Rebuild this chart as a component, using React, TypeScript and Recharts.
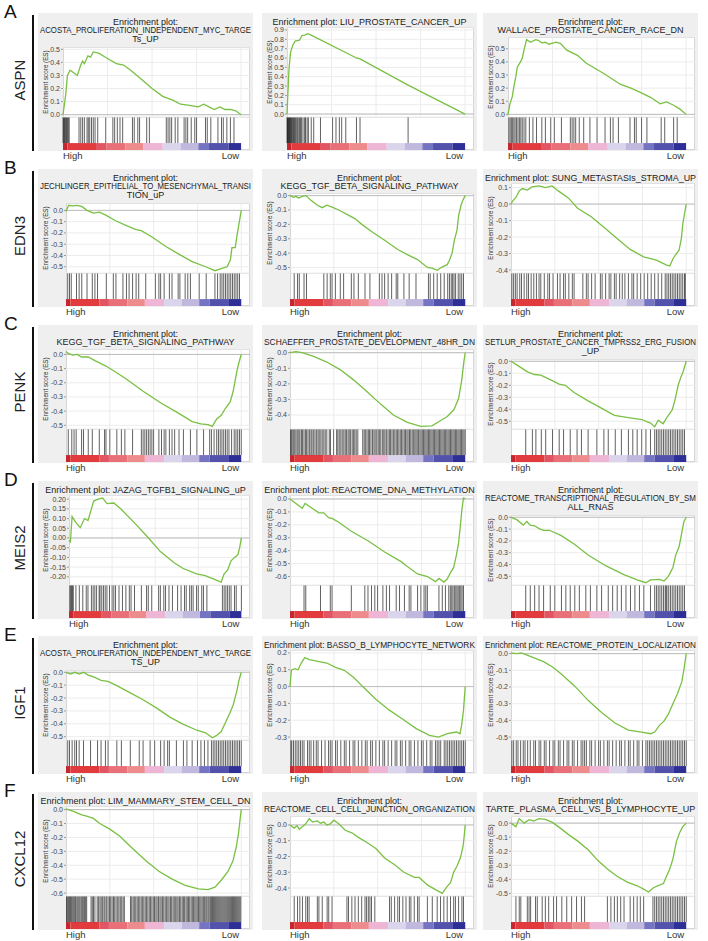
import React from "react"
import { LineChart, Line, XAxis, YAxis, CartesianGrid, ReferenceLine, ReferenceArea } from "recharts"

const FONT = '"Liberation Sans", Arial, Helvetica, sans-serif'

const ROW_LETTERS = ["A", "B", "C", "D", "E", "F"]
const ROW_GENES = ["ASPN", "EDN3", "PENK", "MEIS2", "IGF1", "CXCL12"]

// ranked-list colour bar (rank position in %, and colour of each block)
const RAMP_STOPS = [0, 2.5, 19, 24.5, 35, 45, 56, 66, 76, 82, 93, 100]
const RAMP_COLORS = ["#c4282e", "#e13b3e", "#e25664", "#e96f79", "#ee8b8d", "#efb5d4", "#dad5ec", "#c1b8de", "#7574c3", "#5251ac", "#2d2e96"]
const GRID_X = [25, 50, 75, 100]

// ---------- row A : ASPN ----------
const a1Title = ["Enrichment plot:", "ACOSTA_PROLIFERATION_INDEPENDENT_MYC_TARGE", "Ts_UP"]
const a1Ticks = ["0.5", "0.4", "0.3", "0.2", "0.1", "0.0"]
const a1Es = [[0, 0], [1.5, 0.15], [2.5, 0.3], [4, 0.34], [6, 0.32], [8, 0.3], [10, 0.38], [11, 0.41], [12, 0.39], [14, 0.45], [15.5, 0.44], [17, 0.48], [20, 0.47], [25, 0.43], [30, 0.39], [34, 0.38], [38, 0.34], [45, 0.26], [50, 0.2], [56, 0.14], [62, 0.11], [66, 0.08], [72, 0.07], [76, 0.06], [79, 0.08], [82, 0.06], [85, 0.04], [88, 0.06], [91, 0.04], [94, 0.04], [97, 0.03], [100, 0]]
const a1Hits = [0, 0.4, 0.8, 1.2, 1.6, 2, 2.5, 3, 3.5, 9, 10, 11, 12, 13.5, 14.2, 15, 16, 17, 18, 19.5, 24, 28, 29, 30.5, 32, 33.5, 39, 40, 42, 43, 47, 48.5, 58, 59, 60, 61, 63, 64.5, 68, 69, 70, 72, 74, 75, 80, 81, 83, 87, 89, 90, 92, 94, 96]

const a2Title = ["Enrichment plot: LIU_PROSTATE_CANCER_UP"]
const a2Ticks = ["0.9", "0.8", "0.7", "0.6", "0.5", "0.4", "0.3", "0.2", "0.1", "0.0"]
const a2Es = [[0, 0], [0.6, 0.26], [1.1, 0.48], [2, 0.66], [3.3, 0.74], [4.6, 0.78], [7, 0.79], [8.4, 0.84], [10, 0.845], [11.5, 0.86], [13, 0.85], [39, 0.6], [41, 0.59], [68, 0.31], [100, 0]]
const a2Hits = [0, 0.3, 0.6, 0.9, 1.2, 1.5, 1.8, 2.1, 2.5, 2.9, 3.3, 3.7, 4.2, 4.7, 5.2, 5.8, 6.3, 7, 7.6, 8.2, 9, 9.9, 10.4, 11.3, 12, 13.6, 15, 18.8, 25.6, 27.5, 29.4, 30.7, 33, 39, 41, 68]

const a3Title = ["Enrichment plot:", "WALLACE_PROSTATE_CANCER_RACE_DN"]
const a3Ticks = ["0.5", "0.4", "0.3", "0.2", "0.1", "0.0"]
const a3Es = [[0, 0], [1.1, 0.08], [2.4, 0.135], [3.4, 0.22], [4.3, 0.28], [5.2, 0.36], [7, 0.4], [8, 0.43], [9, 0.49], [10.4, 0.57], [12.7, 0.55], [15.5, 0.57], [17, 0.565], [19, 0.545], [21, 0.55], [23, 0.535], [27, 0.55], [29.5, 0.54], [33, 0.49], [39, 0.45], [44, 0.39], [54, 0.31], [63, 0.23], [69, 0.2], [74, 0.17], [80, 0.13], [85.5, 0.08], [89, 0.095], [93, 0.07], [96.6, 0.04], [100, 0]]
const a3Hits = [0.5, 1.2, 1.9, 2.6, 3.3, 4, 4.8, 5.6, 6.4, 7.2, 8, 9, 10, 12, 14, 16, 19, 21, 24, 26, 30, 35, 36, 37, 38, 40, 42.5, 46, 50, 54.5, 57.5, 59, 62, 68.5, 71, 72, 75, 78, 86, 88, 93, 95]

// ---------- row B : EDN3 ----------
const b1Title = ["Enrichment plot:", "JECHLINGER_EPITHELIAL_TO_MESENCHYMAL_TRANSI", "TION_uP"]
const b1Ticks = ["0.0", "-0.1", "-0.2", "-0.3", "-0.4", "-0.5"]
const b1Es = [[0, -0.01], [1.5, 0.045], [4, 0.04], [6, 0.045], [9, 0.035], [12, 0], [15.6, -0.025], [19, -0.015], [23, -0.045], [28, -0.09], [34.5, -0.135], [40, -0.17], [43, -0.18], [49.5, -0.24], [57, -0.32], [64.6, -0.39], [72, -0.455], [79.7, -0.5], [85, -0.535], [89, -0.515], [91.9, -0.5], [93.8, -0.44], [94.7, -0.33], [96.6, -0.33], [97.5, -0.23], [98.5, -0.14], [100, 0]]
const b1Hits = [1, 2, 3, 6, 7.5, 9, 12, 15, 16.5, 18, 23, 27, 28.5, 32.5, 34.5, 36, 38, 40, 41.5, 45.5, 51, 53, 54, 56, 59, 60.5, 64, 65, 68, 69.5, 71, 76, 80, 85, 86.5, 88, 89, 90, 91, 92, 93, 94, 95, 96, 97, 98, 99]

const b2Title = ["Enrichment plot:", "KEGG_TGF_BETA_SIGNALING_PATHWAY"]
const b2Ticks = ["0.0", "-0.1", "-0.2", "-0.3", "-0.4", "-0.5"]
const b2Es = [[0, 0], [2, -0.012], [3.4, -0.005], [5, -0.017], [7, -0.005], [9, 0], [11.8, -0.03], [15.6, -0.067], [18.4, -0.084], [21, -0.067], [24, -0.08], [27.8, -0.1], [32.5, -0.13], [37, -0.16], [41, -0.2], [46.5, -0.25], [54, -0.31], [61.5, -0.375], [67, -0.41], [72.8, -0.445], [78.4, -0.5], [81, -0.505], [84, -0.52], [86.9, -0.495], [89.7, -0.48], [91, -0.45], [92.5, -0.4], [93.8, -0.31], [95.3, -0.24], [96.2, -0.14], [97.6, -0.067], [98.7, -0.03], [100, 0]]
const b2Hits = [2.4, 4.3, 5.3, 8, 9.4, 19.3, 21.2, 23, 24, 25.9, 28.7, 30.6, 35, 36.5, 39, 42.8, 45.6, 51, 52.5, 54, 56, 58, 60.6, 61.5, 65, 68, 71.9, 79, 80, 82, 84, 86, 88, 90, 91, 92, 92.8, 93.6, 94.5, 96, 97, 98, 99]

const b3Title = ["Enrichment plot: SUNG_METASTASIs_STROMA_UP"]
const b3Ticks = ["0.1", "0.0", "-0.1", "-0.2", "-0.3", "-0.4"]
const b3Es = [[0, 0], [1, 0.02], [2.8, 0.04], [4.7, 0.08], [6.5, 0.094], [9.3, 0.085], [12, 0.104], [16, 0.11], [19.6, 0.1], [23.4, 0.11], [27, 0.08], [32.7, 0.0375], [38, -0.025], [45.8, -0.077], [53, -0.14], [60.7, -0.21], [68, -0.275], [75.7, -0.32], [83, -0.34], [88.8, -0.37], [90.6, -0.375], [92.5, -0.33], [94.4, -0.3], [95.9, -0.28], [97.2, -0.21], [98, -0.125], [99, -0.06], [100, 0]]
const b3Hits = [0.5, 1.5, 2.5, 3.5, 5, 6, 7.5, 9, 10, 11.5, 13, 14.5, 16, 17, 19, 21, 22, 24, 26.5, 28, 30, 31, 33, 35, 36, 41, 43, 44, 46, 48, 51, 52, 54, 56, 57, 59, 60, 62, 63.5, 65, 67, 69, 70, 72, 74, 76, 78, 80, 82, 84, 86, 88, 89, 90, 91, 92, 93, 94, 95, 96, 97, 98, 99, 99.5]

// ---------- row C : PENK ----------
const c1Title = ["Enrichment plot:", "KEGG_TGF_BETA_SIGNALING_PATHWAY"]
const c1Ticks = ["0.0", "-0.1", "-0.2", "-0.3", "-0.4", "-0.5"]
const c1Es = [[0, 0.02], [1.3, 0.008], [3.8, -0.005], [6.3, 0], [8.9, -0.018], [12.7, -0.018], [16.5, -0.044], [22.8, -0.082], [27.8, -0.12], [34, -0.17], [44, -0.26], [54.4, -0.345], [64.6, -0.418], [72, -0.474], [77, -0.49], [81, -0.495], [83.5, -0.508], [86, -0.456], [88.6, -0.43], [91, -0.38], [93.7, -0.335], [95.4, -0.26], [97.5, -0.12], [98.7, -0.057], [100, 0]]
const c1Hits = [1.3, 3.3, 4.6, 5.8, 8.9, 10, 12.7, 15, 19, 22, 22.8, 25, 29, 31.6, 33.6, 38, 43, 44, 45, 46, 47, 48, 49, 50, 53, 54.5, 56, 57, 59, 60.5, 62, 64.5, 67, 71, 74.7, 78.5, 82, 83, 84.5, 86, 87, 88, 89, 90, 91, 92, 93, 94.5, 96, 97, 98, 99, 100]

const c2Title = ["Enrichment plot:", "SCHAEFFER_PROSTATE_DEVELOPMENT_48HR_DN"]
const c2Ticks = ["0.0", "-0.1", "-0.2", "-0.3", "-0.4"]
const c2Es = [[0, 0], [3.3, 0.007], [7, 0], [13.5, -0.024], [21, -0.06], [28.8, -0.11], [36.4, -0.176], [44, -0.25], [51.7, -0.33], [59, -0.4], [67, -0.447], [74.6, -0.473], [81, -0.47], [86, -0.435], [89.8, -0.41], [93.6, -0.365], [96.2, -0.294], [98, -0.176], [99.2, -0.06], [100, 0]]
const c2Hits = [0.3, 0.9, 1.6, 2.2, 2.8, 3.5, 4.4, 5.1, 5.7, 6.6, 7.2, 8, 8.9, 9.5, 10.3, 11.2, 12, 12.6, 13.5, 14.3, 15.2, 16, 16.7, 17.6, 18.4, 19.3, 20.1, 21, 22.4, 23.1, 24.9, 26.6, 27.3, 28.1, 29, 29.8, 30.7, 31.5, 32.2, 33.1, 33.8, 34.6, 35.5, 36.3, 37, 37.8, 38.7, 41.5, 42.3, 43, 43.9, 44.7, 45.4, 46.2, 47.1, 47.9, 48.6, 49.5, 50.3, 51, 51.8, 52.7, 53.5, 54.2, 55, 55.9, 56.7, 57.4, 58.2, 59, 59.8, 60.6, 61.3, 62.1, 62.9, 63.6, 64.4, 65.2, 65.9, 66.7, 67.4, 68.2, 68.9, 69.7, 70.4, 71.2, 71.9, 72.6, 73.3, 74.1, 74.8, 75.5, 76.2, 76.9, 77.6, 78.3, 79, 79.7, 80.4, 81.1, 81.8, 82.5, 83.2, 83.9, 84.6, 85.3, 86, 86.7, 87.4, 88.1, 88.8, 89.5, 90.2, 90.9, 91.6, 92.3, 93, 93.7, 94.4, 95.1, 95.8, 96.5, 97.2, 97.9, 98.6, 99.3, 100]

const c3Title = ["Enrichment plot:", "SETLUR_PROSTATE_CANCER_TMPRSS2_ERG_FUSION", "_UP"]
const c3Ticks = ["0.0", "-0.1", "-0.2", "-0.3", "-0.4", "-0.5"]
const c3Es = [[0, 0], [3.3, -0.03], [7, -0.065], [9.7, -0.09], [13.5, -0.11], [17, -0.115], [22, -0.15], [27.5, -0.19], [31, -0.2], [36, -0.26], [44, -0.33], [51.6, -0.39], [59, -0.45], [67, -0.47], [74.6, -0.485], [79.6, -0.515], [82, -0.545], [84, -0.49], [86.8, -0.52], [89.3, -0.46], [92, -0.405], [93.6, -0.32], [95.4, -0.2], [97, -0.13], [98.2, -0.087], [100, 0]]
const c3Hits = [8.4, 12.2, 14.2, 17.3, 19.8, 23.7, 27.5, 30, 33.8, 37.7, 40.2, 44, 49, 53, 55.5, 59.5, 63, 67, 69.5, 72, 74.6, 77, 79.6, 82, 83, 84, 85, 86, 87, 88, 89, 90, 91, 92, 93, 94, 95, 96, 97, 98, 99]

// ---------- row D : MEIS2 ----------
const d1Title = ["Enrichment plot: JAZAG_TGFB1_SIGNALING_uP"]
const d1Ticks = ["0.20", "0.15", "0.10", "0.05", "0.00", "-0.05", "-0.10", "-0.15", "-0.20"]
const d1Es = [[0, -0.013], [0.8, -0.02], [1.8, 0.11], [3.9, 0.08], [6.5, 0.053], [9, 0.1], [11, 0.09], [13, 0.15], [14.3, 0.19], [16.9, 0.2], [19.5, 0.206], [22, 0.177], [26, 0.18], [30, 0.15], [37.7, 0.08], [45.5, 0.006], [53, -0.07], [61, -0.128], [66, -0.156], [74, -0.185], [79, -0.194], [84.4, -0.213], [88.3, -0.227], [90, -0.185], [92, -0.166], [94, -0.118], [96, -0.1], [98, -0.086], [99, -0.05], [100, 0]]
const d1Hits = [0.5, 1, 1.5, 2, 2.5, 4, 6, 8, 10, 11, 13, 14, 15, 16, 17.5, 18, 19, 20, 21, 22, 23.5, 25, 26, 27, 29, 31, 33, 35, 36, 38, 42, 45, 46, 48, 52, 53, 55, 56, 58, 60, 63, 65, 67, 68, 70, 71, 72, 74, 75, 77, 78, 80, 89, 90, 91, 92, 93, 94, 96, 97, 100]

const d2Title = ["Enrichment plot: REACTOME_DNA_METHYLATION"]
const d2Ticks = ["0.0", "-0.1", "-0.2", "-0.3", "-0.4", "-0.5", "-0.6"]
const d2Es = [[0, 0], [3.4, -0.035], [7, -0.072], [8.6, -0.035], [11.8, -0.064], [16.5, -0.107], [19.3, -0.107], [22, -0.145], [24, -0.15], [27.8, -0.18], [35, -0.25], [44.7, -0.325], [54, -0.41], [63.4, -0.485], [66, -0.513], [72.8, -0.58], [78.4, -0.6], [83, -0.64], [85, -0.615], [87.8, -0.643], [89.7, -0.62], [91.6, -0.57], [93.4, -0.53], [95, -0.43], [96.2, -0.34], [97.2, -0.21], [98, -0.093], [99, 0.008], [100, 0]]
const d2Hits = [8, 9, 17.4, 23, 24, 35, 42.7, 44.5, 46.5, 48.4, 50, 53, 55, 56.8, 60.6, 62.5, 65.3, 68, 69, 72.8, 74.7, 76.5, 77.5, 78.4, 85, 86.9, 88.7, 90.6, 91.5, 92.3, 93, 93.8, 94.6, 95.3, 96, 96.8, 97.5, 98.2, 99]

const d3Title = ["Enrichment plot:", "REACTOME_TRANSCRIPTIONAL_REGULATION_BY_SM", "ALL_RNAS"]
const d3Ticks = ["0.0", "-0.1", "-0.2", "-0.3", "-0.4", "-0.5"]
const d3Es = [[0, 0], [3.3, -0.02], [7, -0.066], [9, -0.036], [11, -0.066], [13.5, -0.072], [16, -0.096], [18.6, -0.11], [22, -0.11], [28.7, -0.155], [36.4, -0.23], [44, -0.32], [54, -0.41], [64.4, -0.485], [72, -0.53], [77, -0.554], [79.6, -0.53], [84.7, -0.525], [87.3, -0.54], [89.8, -0.5], [92.4, -0.425], [94, -0.32], [96, -0.245], [97.5, -0.126], [98.7, -0.036], [100, 0]]
const d3Hits = [8.4, 11, 13.5, 16, 18.6, 22.4, 25, 28.8, 31.3, 33.8, 36.4, 39, 42.7, 45.3, 49, 51.7, 55.5, 58, 60.6, 63, 65.6, 68.2, 70.7, 73.3, 75.8, 79.6, 82, 83, 84, 85, 86, 87, 88, 88.5, 89, 90, 91, 92, 93, 94, 95, 96, 97, 98, 99]

// ---------- row E : IGF1 ----------
const e1Title = ["Enrichment plot:", "ACOSTA_PROLIFERATION_INDEPENDENT_MYC_TARGE", "TS_UP"]
const e1Ticks = ["0.0", "-0.1", "-0.2", "-0.3", "-0.4", "-0.5"]
const e1Es = [[0, 0], [2.5, -0.014], [5, 0], [7.5, -0.014], [10, 0], [12.7, -0.022], [16.5, -0.04], [20, -0.063], [24, -0.07], [29, -0.104], [36.7, -0.16], [44, -0.213], [52, -0.28], [59.5, -0.35], [67, -0.405], [74.7, -0.45], [79.7, -0.47], [83.5, -0.508], [86, -0.49], [88.6, -0.46], [91, -0.39], [93.7, -0.31], [95.4, -0.254], [97.5, -0.145], [98.7, -0.063], [100, 0]]
const e1Hits = [1, 2, 3.5, 5, 6, 7.5, 10, 14, 18, 20, 22.5, 24, 29, 31.6, 36.7, 41.8, 44, 48, 50.6, 54, 56, 58, 59, 63, 67, 69, 72, 75, 77, 79, 81, 83, 84, 85, 86, 87, 88, 89, 90, 91, 92, 93, 94, 95, 96, 97, 98, 99, 100]

const e2Title = ["Enrichment plot: BASSO_B_LYMPHOCYTE_NETWORK"]
const e2Ticks = ["0.2", "0.1", "0.0", "-0.1", "-0.2", "-0.3"]
const e2Es = [[0, 0], [0.8, 0.097], [2.8, 0.107], [4.6, 0.1], [6.4, 0.14], [8.4, 0.172], [11, 0.16], [16, 0.15], [21, 0.14], [26, 0.114], [31, 0.097], [36.4, 0.054], [41.5, 0], [49, -0.075], [56.7, -0.14], [64.4, -0.194], [72, -0.25], [79.6, -0.29], [84.7, -0.3], [89.8, -0.28], [95, -0.27], [97, -0.28], [98, -0.226], [99, -0.14], [100, 0]]
const e2Hits = [0.5, 1, 2, 3, 4, 5, 6, 7, 8, 10, 11, 12, 13.5, 15, 16, 18, 20, 22, 23, 24, 26, 27, 29, 31, 32, 34, 36, 37, 39, 41, 43, 44, 46, 47, 49, 51, 53, 54, 56, 58, 60, 61, 63, 64, 66, 68, 69, 71, 73, 75, 76, 78, 80, 81, 83, 84, 85, 86, 88, 89, 90, 91, 92, 93, 94, 95, 96, 97, 98, 99, 100]

const e3Title = ["Enrichment plot: REACTOME_PROTEIN_LOCALIZATION"]
const e3Ticks = ["0.0", "-0.1", "-0.2", "-0.3", "-0.4", "-0.5"]
const e3Es = [[0, 0.004], [3.3, 0], [6, 0.004], [8.5, -0.006], [13.5, -0.027], [18.6, -0.048], [23.7, -0.08], [28.7, -0.122], [36.4, -0.195], [44, -0.28], [51.7, -0.353], [59.3, -0.416], [67, -0.458], [74.6, -0.47], [79.6, -0.48], [82, -0.47], [84.7, -0.43], [87.3, -0.405], [89.8, -0.363], [92.4, -0.3], [95, -0.24], [97.5, -0.168], [98.7, -0.095], [100, 0]]
const e3Hits = [0.5, 1.5, 3, 4, 5.5, 7, 8, 9.5, 11, 13, 14, 16, 17, 19, 20, 22, 24, 25, 27, 28, 30, 32, 33, 35, 36, 38, 40, 41, 42, 43, 45, 46, 48, 50, 51, 53, 55, 56, 58, 60, 62, 63, 65, 67, 68, 70, 72, 73, 75, 77, 78, 79, 80, 81, 82, 83, 84, 85, 86, 87, 88, 89, 90, 91, 92, 93, 94, 95, 96, 97, 98, 99, 100]

// ---------- row F : CXCL12 ----------
const f1Title = ["Enrichment plot: LIM_MAMMARY_STEM_CELL_DN"]
const f1Ticks = ["0.0", "-0.1", "-0.2", "-0.3", "-0.4", "-0.5", "-0.6"]
const f1Es = [[0, 0.005], [4.3, -0.013], [9, -0.038], [11.8, -0.046], [15.6, -0.063], [19.3, -0.1], [25, -0.14], [30.6, -0.19], [38, -0.28], [45.6, -0.367], [53, -0.443], [60.6, -0.5], [68, -0.544], [75.6, -0.57], [81, -0.575], [85, -0.557], [88.7, -0.506], [92.5, -0.443], [95.3, -0.367], [97.2, -0.266], [98.5, -0.165], [99.4, -0.063], [100, 0]]
const f1Hits = [0.3, 0.8, 1.4, 2, 2.6, 3.1, 3.8, 4.4, 5, 5.5, 6.2, 6.8, 7.4, 8, 8.7, 9.3, 9.9, 10.6, 11.2, 11.8, 14.3, 15, 15.7, 16.5, 17.8, 18.6, 19.4, 20.1, 20.9, 21.7, 22.3, 23.2, 24, 24.8, 25.5, 26.3, 27.1, 27.8, 28.6, 29.5, 30.2, 31, 31.8, 32.6, 33.3, 36.8, 37.5, 38.3, 39, 39.8, 40.6, 41.3, 42.1, 42.9, 43.6, 44.4, 45.2, 45.9, 46.7, 47.5, 48.2, 49, 49.8, 50.5, 51.3, 52, 52.8, 53.6, 54.3, 55.1, 55.8, 56.6, 57.3, 58.1, 58.8, 59.6, 60.3, 61.1, 61.8, 62.6, 63.3, 64, 64.8, 65.5, 66.3, 67, 67.7, 68.5, 69.2, 69.9, 70.6, 71.4, 72.1, 72.8, 73.5, 74.2, 74.9, 75.6, 76.3, 77, 77.7, 78.4, 79.1, 79.8, 80.4, 81.1, 81.7, 82.4, 83, 83.6, 84.2, 84.8, 85.4, 86, 86.6, 87.2, 87.8, 88.4, 89, 89.6, 90.2, 90.8, 91.4, 92, 92.6, 93.2, 93.8, 94.4, 95, 95.6, 96.2, 96.8, 97.4, 98, 98.6, 99.2, 99.8]

const f2Title = ["Enrichment plot:", "REACTOME_CELL_CELL_JUNCTION_ORGANIZATION"]
const f2Ticks = ["0.0", "-0.1", "-0.2", "-0.3", "-0.4"]
const f2Es = [[0, 0], [2.4, -0.02], [4, -0.005], [5.3, -0.027], [7, -0.011], [9, 0.007], [11, 0.04], [12.8, 0.018], [15.6, 0.025], [17.4, 0.011], [19.3, 0.018], [21, 0], [23, 0.007], [25, 0.03], [27.8, 0.007], [31.5, -0.034], [35.3, -0.05], [39, -0.079], [43.7, -0.11], [49, -0.15], [54, -0.21], [59.7, -0.253], [65, -0.3], [71, -0.333], [73.7, -0.333], [78.4, -0.38], [83, -0.41], [86.9, -0.434], [89.7, -0.39], [91.6, -0.366], [93.4, -0.3], [95.3, -0.26], [97.2, -0.21], [98.7, -0.14], [99.4, -0.072], [100, 0]]
const f2Hits = [2.4, 4.3, 5.6, 7.1, 9, 10, 10.9, 15.6, 16.5, 18.4, 21.2, 22.1, 24, 32.5, 33.4, 35.3, 37.1, 39, 40.9, 42.8, 43.7, 44.7, 45.6, 46.5, 48.4, 56.8, 57.8, 59.7, 61.5, 62.5, 64.4, 66.2, 68.1, 69, 70.9, 72.8, 73.7, 78.4, 81.2, 84, 85.9, 87.8, 89.7, 91.6, 93.4, 94.4, 96.2, 98.1, 99]

const f3Title = ["Enrichment plot:", "TARTE_PLASMA_CELL_VS_B_LYMPHOCYTE_UP"]
const f3Ticks = ["0.0", "-0.1", "-0.2", "-0.3", "-0.4", "-0.5"]
const f3Es = [[0, 0], [2.8, -0.025], [4.7, 0.032], [7.5, 0], [10.3, 0.025], [13, 0.015], [15.9, 0.032], [19.6, 0.027], [23.4, 0.007], [27, -0.025], [32.7, -0.08], [38.3, -0.13], [44, -0.19], [49.5, -0.265], [55, -0.327], [60.7, -0.38], [66.4, -0.42], [72, -0.446], [75.7, -0.47], [78.5, -0.49], [81.3, -0.46], [84, -0.445], [87, -0.43], [88.8, -0.376], [90.6, -0.327], [92.5, -0.25], [94.4, -0.13], [96.3, -0.067], [98, -0.025], [100, 0]]
const f3Hits = [2.8, 4.7, 5.6, 9.3, 10.3, 11.2, 14, 15, 17.8, 19.6, 21.5, 24.3, 26, 29, 31.8, 34.6, 37.4, 40.2, 42, 55, 57, 59, 60.7, 62.6, 64.5, 68, 70, 72, 73.8, 75.7, 81, 82, 83, 84, 85, 86, 87, 88, 89, 90, 91, 92, 93, 94, 95, 96, 97, 98, 99, 100]

type Panel = { title: string[]; ticks: string[]; es: number[][]; hits: number[] }

const PANELS: Panel[][] = [
  [{ title: a1Title, ticks: a1Ticks, es: a1Es, hits: a1Hits }, { title: a2Title, ticks: a2Ticks, es: a2Es, hits: a2Hits }, { title: a3Title, ticks: a3Ticks, es: a3Es, hits: a3Hits }],
  [{ title: b1Title, ticks: b1Ticks, es: b1Es, hits: b1Hits }, { title: b2Title, ticks: b2Ticks, es: b2Es, hits: b2Hits }, { title: b3Title, ticks: b3Ticks, es: b3Es, hits: b3Hits }],
  [{ title: c1Title, ticks: c1Ticks, es: c1Es, hits: c1Hits }, { title: c2Title, ticks: c2Ticks, es: c2Es, hits: c2Hits }, { title: c3Title, ticks: c3Ticks, es: c3Es, hits: c3Hits }],
  [{ title: d1Title, ticks: d1Ticks, es: d1Es, hits: d1Hits }, { title: d2Title, ticks: d2Ticks, es: d2Es, hits: d2Hits }, { title: d3Title, ticks: d3Ticks, es: d3Es, hits: d3Hits }],
  [{ title: e1Title, ticks: e1Ticks, es: e1Es, hits: e1Hits }, { title: e2Title, ticks: e2Ticks, es: e2Es, hits: e2Hits }, { title: e3Title, ticks: e3Ticks, es: e3Es, hits: e3Hits }],
  [{ title: f1Title, ticks: f1Ticks, es: f1Es, hits: f1Hits }, { title: f2Title, ticks: f2Ticks, es: f2Es, hits: f2Hits }, { title: f3Title, ticks: f3Ticks, es: f3Es, hits: f3Hits }],
]

// layout
const ROW_TOP = [13, 169, 325, 481, 636, 792]
const COL_LEFT = [38, 262, 483]
const PANEL_W = 215
const PANEL_H = 138
const CHART_W = PANEL_W - 3
const ES_BOTTOM = 104
const BAR_H = 33
const X_MAX = 105
const RAMP_TOP = 0.21
const TITLE_PX = 9
const TITLE_MAX_W = 211

// squeeze over-long title lines so they fit the panel, like the original
let measureCtx: CanvasRenderingContext2D | null = null
function titleScale(text: string) {
  if (!measureCtx) measureCtx = document.createElement("canvas").getContext("2d")
  if (!measureCtx) return 1
  measureCtx.font = `${TITLE_PX}px "Liberation Sans"`
  const w = measureCtx.measureText(text).width
  return w > TITLE_MAX_W ? TITLE_MAX_W / w : 1
}

function GseaPanel({ p, left, top }: { p: Panel; left: number; top: number }) {
  const plotTop = 4 + 10 * p.title.length
  const esH = ES_BOTTOM - plotTop
  const tickVals = p.ticks.map(Number)
  const ys = p.es.map(d => d[1]).concat(tickVals)
  const lo = Math.min(...ys), hi = Math.max(...ys)
  const pad = (hi - lo) * 0.035
  const yw = Math.round(15 + Math.max(...p.ticks.map(t => t.length)) * 3.2)
  const plotW = CHART_W - yw
  const data = p.es.map(([x, es]) => ({ x, es }))
  const lowX = yw + plotW * 100 / X_MAX

  return (
    <>
      <div style={{ position: "absolute", left, top, width: PANEL_W, height: PANEL_H, background: "#efefef" }}>
        <div style={{
          position: "absolute", left: -20, right: -20, top: 5, textAlign: "center",
          fontSize: TITLE_PX, lineHeight: "8.4px", color: "#222", whiteSpace: "nowrap"
        }}>
          {p.title.map((t, i) => (
            <div key={i} style={{ transform: `scaleX(${titleScale(t)})` }}>{t}</div>
          ))}
        </div>
        <div style={{
          position: "absolute", left: yw, top: plotTop, width: plotW, height: PANEL_H - 1 - plotTop,
          background: "#fff", boxSizing: "border-box", border: "1px solid #d6d6d6"
        }}/>
        <div style={{
          position: "absolute", left: 7, top: plotTop + esH / 2, fontSize: 6.3, color: "#333",
          whiteSpace: "nowrap", transform: "translate(-50%, -50%) rotate(-90deg)"
        }}>Enrichment score (ES)</div>
        <div style={{ position: "absolute", left: 0, top: plotTop }}>
          <LineChart width={CHART_W} height={esH} data={data} margin={{ top: 0, right: 0, bottom: 0, left: 0 }}>
            <CartesianGrid vertical={false} stroke="#ececec"/>
            {GRID_X.map(x => <ReferenceLine key={x} x={x} stroke="#ececec"/>)}
            <XAxis type="number" dataKey="x" domain={[0, X_MAX]} hide/>
            <YAxis
              type="number" domain={[lo - pad, hi + pad]} ticks={tickVals} interval={0} width={yw}
              tickFormatter={(v: number) => p.ticks[tickVals.indexOf(v)] ?? ""}
              tick={{ fontSize: 7, fill: "#444", fontFamily: FONT }}
              tickSize={2} tickMargin={1} tickLine={{ stroke: "#999" }} axisLine={false}
            />
            <ReferenceLine y={0} stroke="#bdbdbd"/>
            <Line type="linear" dataKey="es" stroke="#79c043" strokeWidth={1.3} dot={false} isAnimationActive={false}/>
          </LineChart>
        </div>
        <div style={{ position: "absolute", left: 0, top: ES_BOTTOM }}>
          <LineChart width={CHART_W} height={BAR_H} data={[{ x: 0, y: 0 }, { x: X_MAX, y: 1 }]} margin={{ top: 0, right: 0, bottom: 0, left: yw }}>
            <XAxis type="number" dataKey="x" domain={[0, X_MAX]} hide/>
            <YAxis type="number" domain={[0, 1]} hide/>
            <Line dataKey="y" stroke="none" dot={false} isAnimationActive={false}/>
            {RAMP_COLORS.map((c, i) => (
              <ReferenceArea key={i} x1={RAMP_STOPS[i]} x2={RAMP_STOPS[i + 1]} y1={0} y2={RAMP_TOP} fill={c} fillOpacity={1} stroke="none"/>
            ))}
            {p.hits.map((h, i) => (
              <ReferenceLine key={"h" + i} segment={[{ x: h, y: RAMP_TOP }, { x: h, y: 1 }]} stroke="#000" strokeOpacity={0.62} strokeWidth={1}/>
            ))}
            <ReferenceLine y={1} stroke="#cfcfcf"/>
          </LineChart>
        </div>
      </div>
      <div style={{ position: "absolute", left: left + yw, top: top + PANEL_H, fontSize: 9.5, lineHeight: "10px", color: "#333" }}>High</div>
      <div style={{ position: "absolute", left: left + lowX - 2, top: top + PANEL_H, fontSize: 9.5, lineHeight: "10px", color: "#333", transform: "translateX(-100%)" }}>Low</div>
    </>
  )
}

export default function App() {
  return (
    <div style={{ position: "absolute", left: 0, top: 0, width: 708, height: 941, background: "#fff", fontFamily: FONT, overflow: "hidden" }}>
      {ROW_LETTERS.map((letter, r) => (
        <React.Fragment key={letter}>
          <div style={{ position: "absolute", left: 4, top: ROW_TOP[r] - 11, fontSize: 19, lineHeight: "19px", color: "#111" }}>{letter}</div>
          <div style={{
            position: "absolute", left: 19, top: ROW_TOP[r] + 67, fontSize: 15, color: "#222", whiteSpace: "nowrap",
            transform: "translate(-50%, -50%) rotate(-90deg)"
          }}>{ROW_GENES[r]}</div>
          <div style={{ position: "absolute", left: 32, top: ROW_TOP[r] + 2, width: 2, height: 136, background: "#111" }}/>
          {PANELS[r].map((p, c) => (
            <GseaPanel key={c} p={p} left={COL_LEFT[c]} top={ROW_TOP[r]}/>
          ))}
        </React.Fragment>
      ))}
    </div>
  )
}
